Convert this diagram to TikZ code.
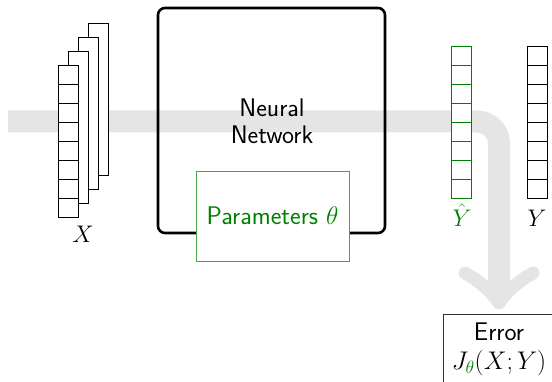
\RequirePackage{fix-cm}
\documentclass[tikz,border=0pt]{standalone}
\usetikzlibrary{calc}
\definecolor{bandgray}{gray}{0.9}
\definecolor{paramgreen}{RGB}{0,128,0}
\definecolor{paramedge}{RGB}{70,165,70}
\tikzset{
  every node/.style={font=\sffamily\fontsize{25.5}{27}\selectfont},
  vecbox/.style={draw, fill=white, line width=1pt, minimum width=20pt, minimum height=152pt, inner sep=0pt},
  flowband/.style={draw=bandgray, line width=22pt, rounded corners=22pt},
  flowhead/.style={draw=bandgray, line width=13pt, line cap=round, line join=round},
  netbox/.style={draw, line width=2.6pt, rounded corners=7pt, minimum width=227pt, minimum height=225pt},
  parambox/.style={draw=paramedge, line width=0.9pt, fill=white, text=paramgreen, minimum width=153pt, minimum height=90pt},
  errtext/.style={align=center, anchor=north, inner sep=0pt, font=\sffamily\fontsize{25.5}{29}\selectfont},
  errframe/.style={draw=black!80, line width=0.9pt, fill=white},
  veclabel/.style={anchor=base, inner sep=0pt, font=\fontsize{24}{27}\selectfont}
}
% split a vector box into 8 cells
\newcommand\cellrules[2][black]{%
  \foreach \k in {1,...,7}
    \draw[draw=#1, line width=1pt] ($(#2.north west)!\k/8!(#2.south west)$) -- ($(#2.north east)!\k/8!(#2.south east)$);}
\begin{document}
\begin{tikzpicture}[x=1pt,y=-1pt]
  \path[use as bounding box, clip] (0,0) rectangle (552,382);

  % error box (runs past the frame on the right and below)
  \coordinate (errtl) at (443.5,314.5);
  \draw[errframe] (errtl) rectangle (555,400);
  \node[errtext] (err) at (499,322.5) {Error\\$J_{\color{paramgreen}\theta}(X;Y)$};

  % data flow band from the input to the error
  \coordinate (bandstart) at (8,121.5);
  \coordinate (tip) at (499,303);
  \draw[flowband] (bandstart) -| ($(tip)+(0,-8)$);
  \draw[flowhead] ($(tip)+(-34,-30)$) .. controls ($(tip)+(-21,-23)$) and ($(tip)+(-7,-11)$) .. (tip)
                  .. controls ($(tip)+(7,-11)$) and ($(tip)+(21,-23)$) .. ($(tip)+(34,-30)$);

  % input batch X
  \node[vecbox] (x4) at (98.5,99.5) {};
  \node[vecbox] (x3) at (88.5,113.5) {};
  \node[vecbox] (x2) at (78.5,127.5) {};
  \node[vecbox] (x1) at (68.5,141.5) {};
  \cellrules{x1}
  \node[veclabel] (xlab) at (83,243) {$X$};

  % network
  \node[netbox] (net) at (271.5,120.5) {};
  \node[align=center, inner sep=0pt] (nettext) at (272,121) {Neural\\Network};
  \node[parambox] (par) at (272.5,216) {Parameters $\theta$};

  % prediction and target
  \node[vecbox, draw=paramgreen] (yhat) at (461.5,122.5) {};
  \cellrules[paramgreen]{yhat}
  \node[veclabel, text=paramgreen] (yhatlab) at (462,227) {$\hat{Y}$};

  \node[vecbox] (y) at (537.5,122.5) {};
  \cellrules{y}
  \node[veclabel] (ylab) at (537,227) {$Y$};
\end{tikzpicture}
\end{document}
